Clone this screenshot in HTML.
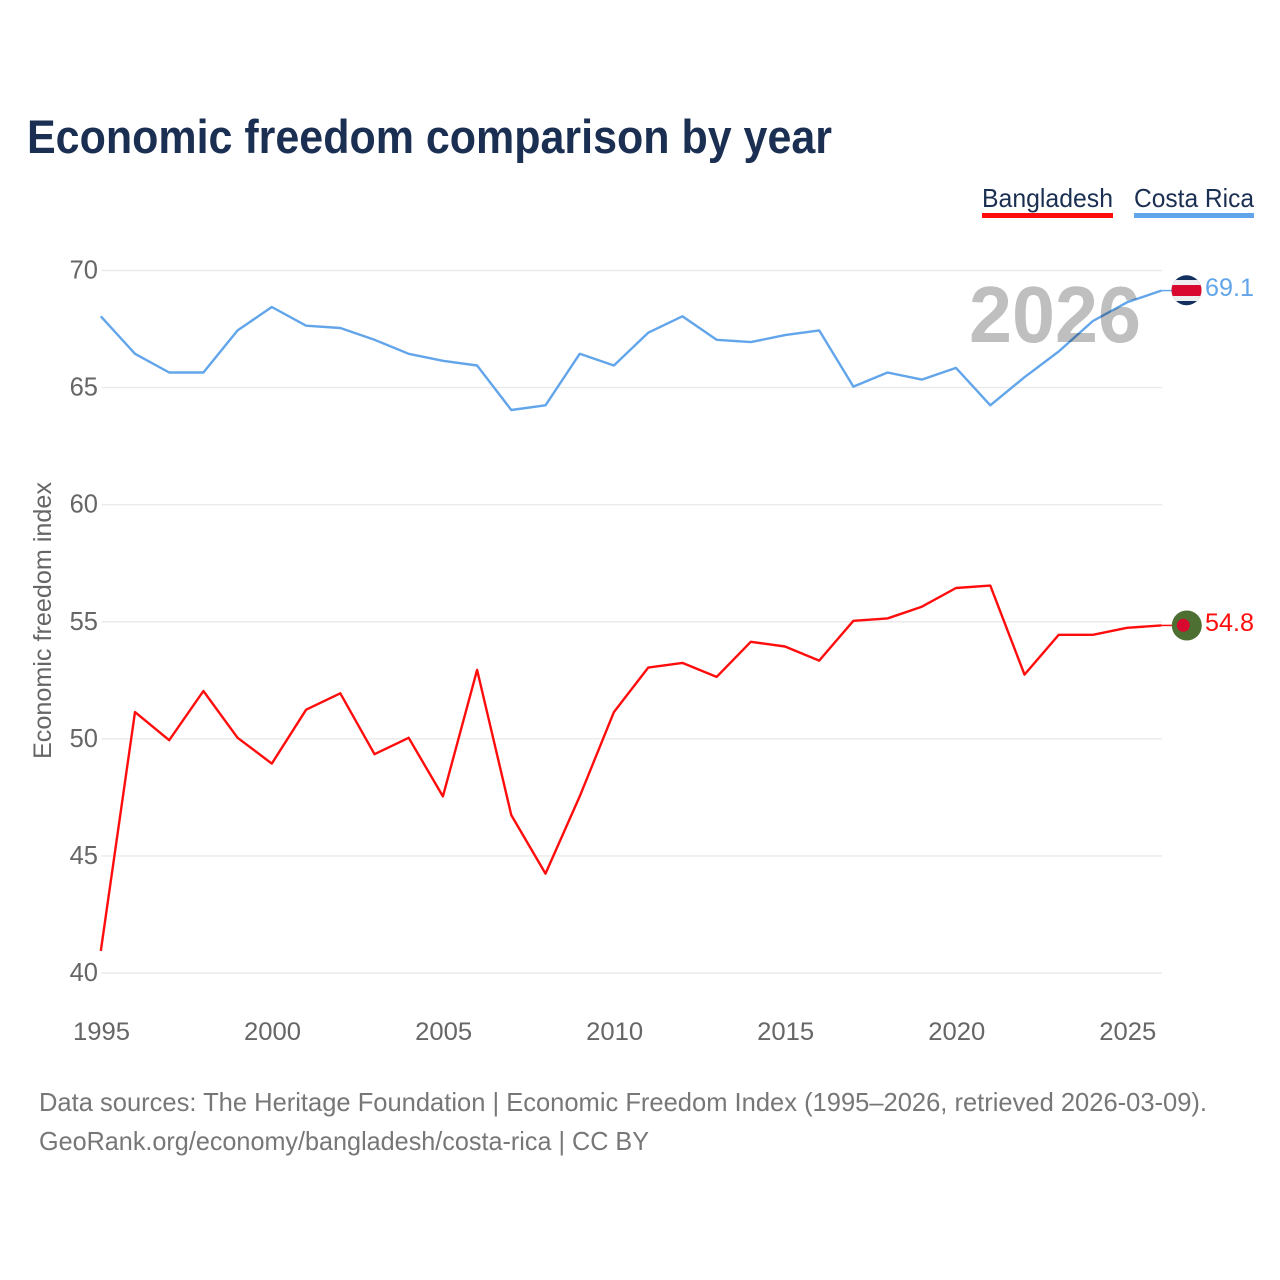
<!DOCTYPE html>
<html lang="en">
<head>
<meta charset="utf-8">
<title>Economic freedom comparison by year</title>
<style>
html,body{margin:0;padding:0;background:#fff;width:1280px;height:1280px;overflow:hidden}
svg{display:block}
text{font-family:"Liberation Sans",sans-serif}
</style>
</head>
<body>
<svg id="chart" xmlns="http://www.w3.org/2000/svg" width="1280" height="1280" viewBox="0 0 1280 1280">
  <defs>
    <clipPath id="clip-cr"><circle cx="1186.5" cy="290.3" r="15"/></clipPath>
    <clipPath id="clip-bd"><circle cx="1186.8" cy="625.5" r="15"/></clipPath>
  </defs>
  <rect width="1280" height="1280" fill="#fff"/>
  <text x="27" y="153" font-size="47" font-weight="700" fill="#1a2f52" textLength="805" lengthAdjust="spacingAndGlyphs">Economic freedom comparison by year</text>

  <text x="982" y="207" font-size="26" fill="#1a2f52" textLength="131" lengthAdjust="spacingAndGlyphs">Bangladesh</text>
  <rect x="982" y="213" width="131" height="5" fill="#ff0d0d"/>
  <text x="1134" y="207" font-size="26" fill="#1a2f52" textLength="120" lengthAdjust="spacingAndGlyphs">Costa Rica</text>
  <rect x="1134" y="213" width="120" height="5" fill="#62a5ea"/>

  <g id="grid"></g>
  <g id="yticks"></g>
  <g id="xticks"></g>

  <text transform="translate(51,620.5) rotate(-90)" text-anchor="middle" font-size="25" fill="#666" textLength="277" lengthAdjust="spacingAndGlyphs">Economic freedom index</text>

  <g transform="translate(-0.7,-1)">
    <polyline id="line-bd" fill="none" stroke="#ff0d0d" stroke-width="2.4" stroke-linejoin="round"/>
    <polyline id="line-cr" fill="none" stroke="#62a5ea" stroke-width="2.4" stroke-linejoin="round"/>
  </g>

  <text x="969" y="342" font-size="80" font-weight="700" fill="#000" fill-opacity="0.25" textLength="172" lengthAdjust="spacingAndGlyphs">2026</text>

  <line id="conn-cr" stroke="#62a5ea" stroke-width="1.5"/>
  <line id="conn-bd" stroke="#ff0d0d" stroke-width="1.5"/>

  <g clip-path="url(#clip-cr)">
    <rect x="1170" y="274" width="34" height="34" fill="#14305f"/>
    <rect x="1170" y="280" width="34" height="21" fill="#eeeeee"/>
    <rect x="1170" y="285" width="34" height="11" fill="#d9082f"/>
  </g>
  <g clip-path="url(#clip-bd)">
    <rect x="1170" y="609" width="34" height="34" fill="#4d6f32"/>
    <circle cx="1183.3" cy="625.3" r="6.5" fill="#d9082f"/>
  </g>

  <text id="value-cr" x="1205" y="296" font-size="25" fill="#62a5ea" textLength="49" lengthAdjust="spacingAndGlyphs"></text>
  <text id="value-bd" x="1205" y="631" font-size="25" fill="#ff0d0d" textLength="49" lengthAdjust="spacingAndGlyphs"></text>

  <text x="39" y="1111" font-size="26" fill="#777" textLength="1168" lengthAdjust="spacingAndGlyphs">Data sources: The Heritage Foundation | Economic Freedom Index (1995–2026, retrieved 2026-03-09).</text>
  <text x="39" y="1150" font-size="26" fill="#777" textLength="610" lengthAdjust="spacingAndGlyphs">GeoRank.org/economy/bangladesh/costa-rica | CC BY</text>
</svg>
<script>
const years = [1995,1996,1997,1998,1999,2000,2001,2002,2003,2004,2005,2006,2007,2008,2009,2010,2011,2012,2013,2014,2015,2016,2017,2018,2019,2020,2021,2022,2023,2024,2025,2026];
const bangladesh = [40.9,51.1,49.9,52.0,50.0,48.9,51.2,51.9,49.3,50.0,47.5,52.9,46.7,44.2,47.5,51.1,53.0,53.2,52.6,54.1,53.9,53.3,55.0,55.1,55.6,56.4,56.5,52.7,54.4,54.4,54.7,54.8];
const costaRica = [68.0,66.4,65.6,65.6,67.4,68.4,67.6,67.5,67.0,66.4,66.1,65.9,64.0,64.2,66.4,65.9,67.3,68.0,67.0,66.9,67.2,67.4,65.0,65.6,65.3,65.8,64.2,65.4,66.5,67.8,68.6,69.1];
const yTicks = [40,45,50,55,60,65,70];
const xTicks = [1995,2000,2005,2010,2015,2020,2025];

const NS = 'http://www.w3.org/2000/svg';
function xScale(year){ return 101.5 + (year - 1995) * (1162 - 101.5) / 31; }
function yScale(v){ return 973 - (v - 40) * (973 - 270.5) / 30; }
function pts(series){ return series.map(function(v,i){ return xScale(years[i]).toFixed(1) + ',' + yScale(v).toFixed(1); }).join(' '); }

const grid = document.getElementById('grid');
const yG = document.getElementById('yticks');
yTicks.forEach(function(t){
  const l = document.createElementNS(NS,'line');
  
  
  l.setAttribute('x1', 101.5);
  l.setAttribute('x2', 1162);
  l.setAttribute('y1', yScale(t));
  l.setAttribute('y2', yScale(t));
  l.setAttribute('stroke', '#eaeaea');
  l.setAttribute('stroke-width', '1.4');
  grid.appendChild(l);
  const s = document.createElementNS(NS,'text');
  
  
  s.setAttribute('x', 98);
  s.setAttribute('y', yScale(t) + 8);
  s.setAttribute('text-anchor', 'end');
  s.setAttribute('font-size', '25.5');
  s.setAttribute('fill', '#666');
  s.textContent = t;
  yG.appendChild(s);
});

const xG = document.getElementById('xticks');
xTicks.forEach(function(t){
  const s = document.createElementNS(NS,'text');
  
  
  s.setAttribute('x', xScale(t));
  s.setAttribute('y', 1040);
  s.setAttribute('text-anchor', 'middle');
  s.setAttribute('font-size', '25');
  s.setAttribute('fill', '#666');
  s.setAttribute('textLength', '57');
  s.setAttribute('lengthAdjust', 'spacingAndGlyphs');
  s.textContent = t;
  xG.appendChild(s);
});

document.getElementById('line-bd').setAttribute('points', pts(bangladesh));
document.getElementById('line-cr').setAttribute('points', pts(costaRica));

function conn(id, series){
  const c = document.getElementById(id);
  const y = yScale(series[series.length - 1]) - 1;
  c.setAttribute('x1', 1161);
  c.setAttribute('x2', 1173);
  c.setAttribute('y1', y);
  c.setAttribute('y2', y);
}
conn('conn-cr', costaRica);
conn('conn-bd', bangladesh);
document.getElementById('value-cr').textContent = costaRica[costaRica.length - 1].toFixed(1);
document.getElementById('value-bd').textContent = bangladesh[bangladesh.length - 1].toFixed(1);
</script>
</body>
</html>
